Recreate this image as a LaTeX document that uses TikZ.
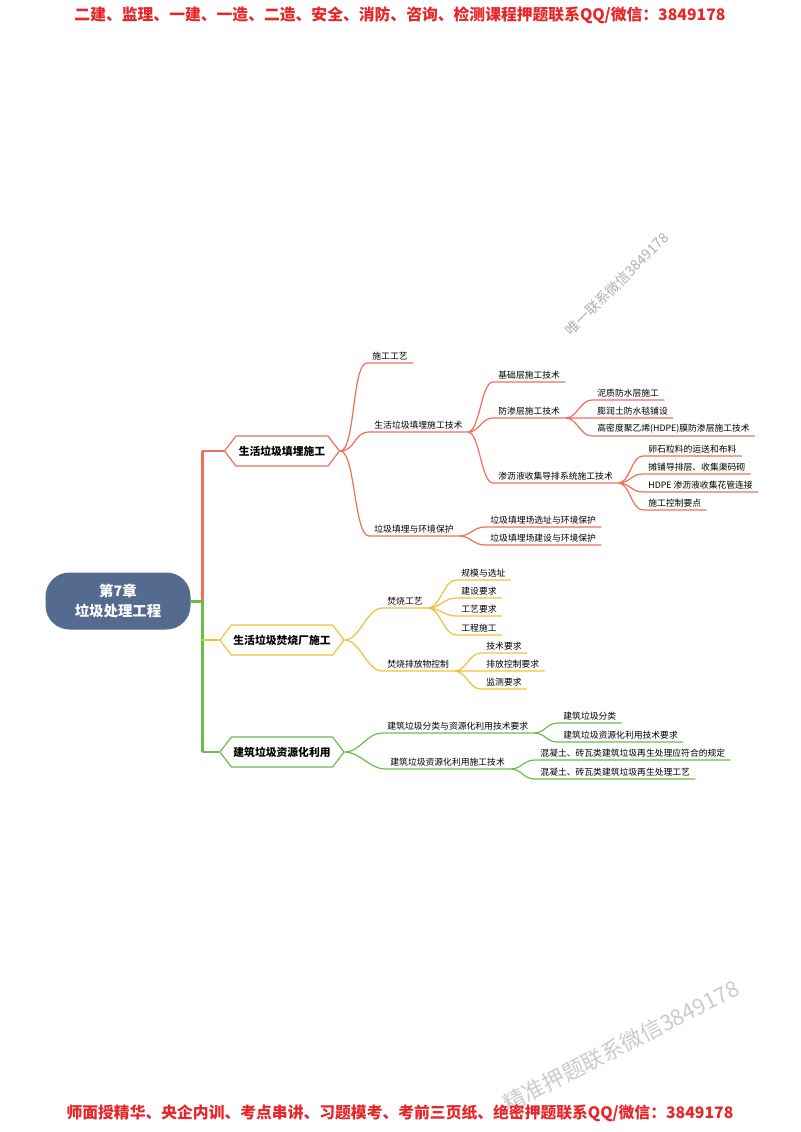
\documentclass[tikz,border=0pt]{standalone}
\usepackage{fontspec}
\setmainfont{Noto Sans CJK SC}
\usetikzlibrary{shapes.symbols}
\definecolor{hdred}{RGB}{230,38,40}
\definecolor{brred}{RGB}{238,112,92}
\definecolor{bryel}{RGB}{242,192,56}
\definecolor{brgrn}{RGB}{108,190,72}
\definecolor{rootc}{RGB}{84,106,142}
\definecolor{wmgray}{RGB}{175,175,175}
\tikzset{
  root/.style={draw=none, fill=rootc, text=white, rounded corners=12pt, align=center,
    minimum width=72.5pt, minimum height=28.5pt, font=\bfseries\fontsize{7.2}{10}\selectfont},
  topic/.style={shape=signal, signal to=east and west, signal pointer angle=105, draw=#1,
    fill=white, line width=0.6pt, minimum width=57.5pt, minimum height=15pt, inner xsep=1pt,
    font=\bfseries\fontsize{5.4}{6}\selectfont},
  sub/.style={anchor=south west, inner xsep=2.5pt, inner ysep=1pt,
    font=\fontsize{4.4}{5}\selectfont},
  br/.style={draw=#1, line width=0.6pt},
  trunk/.style={draw=#1, line width=1.5pt},
  banner/.style={text=hdred, font=\bfseries\fontsize{7.9}{9}\selectfont},
}

\begin{document}
\begin{tikzpicture}[x=0.5pt, y=-0.5pt]
    \useasboundingbox (0,0) rectangle (800,1132);
    % 水印
    \node[text=wmgray, rotate=45, font=\fontsize{7}{8}\selectfont] (wm1) at (617,284) {唯一联系微信3849178};
    \node[text=wmgray!65, rotate=27, font=\fontsize{11}{12}\selectfont] (wm2) at (621,1046) {精准押题联系微信3849178};
    % 页眉页脚
    \node[banner] (head) at (400,15)   {二建、监理、一建、一造、二造、安全、消防、咨询、检测课程押题联系QQ/微信：3849178};
    \node[banner] (foot) at (400,1113) {师面授精华、央企内训、考点串讲、习题模考、考前三页纸、绝密押题联系QQ/微信：3849178};
    % 中心
    \node[root] (root) at (118,601) {第7章\\垃圾处理工程};
    \coordinate (fork) at (202,601);
    \node[topic=brred] (h1) at (282,451) {生活垃圾填埋施工};
    \node[topic=bryel] (h2) at (282,640) {生活垃圾焚烧厂施工};
    \node[topic=brgrn] (h3) at (282,752) {建筑垃圾资源化利用};
    % 填埋
    \node[sub] (a1) at (367,363) {施工工艺};
    \node[sub] (a2) at (369,432) {生活垃圾填埋施工技术};
    \node[sub] (a3) at (369,536) {垃圾填埋与环境保护};
    \node[sub] (b1) at (493,382) {基础层施工技术};
    \node[sub] (b2) at (493,418) {防渗层施工技术};
    \node[sub] (b3) at (493,483) {渗沥液收集导排系统施工技术};
    \node[sub] (c1) at (592,400) {泥质防水层施工};
    \node[sub] (c2) at (592,418) {膨润土防水毯铺设};
    \node[sub] (c3) at (592,436) {高密度聚乙烯(HDPE)膜防渗层施工技术};
    \node[sub] (d1) at (643,456) {卵石粒料的运送和布料};
    \node[sub] (d2) at (643,474) {摊铺导排层、收集渠码砌};
    \node[sub] (d3) at (643,492) {HDPE 渗沥液收集花管连接};
    \node[sub] (d4) at (643,510) {施工控制要点};
    \node[sub] (e1) at (485,527) {垃圾填埋场选址与环境保护};
    \node[sub] (e2) at (485,545) {垃圾填埋场建设与环境保护};
    % 焚烧
    \node[sub] (f1) at (382,608) {焚烧工艺};
    \node[sub] (f2) at (382,671) {焚烧排放物控制};
    \node[sub] (g1) at (456,580) {规模与选址};
    \node[sub] (g2) at (456,598) {建设要求};
    \node[sub] (g3) at (456,616) {工艺要求};
    \node[sub] (g4) at (456,635) {工程施工};
    \node[sub] (g5) at (481,653) {技术要求};
    \node[sub] (g6) at (481,671) {排放控制要求};
    \node[sub] (g7) at (481,689) {监测要求};
    % 建筑垃圾
    \node[sub] (k1) at (382,733) {建筑垃圾分类与资源化利用技术要求};
    \node[sub] (k2) at (385,769) {建筑垃圾资源化利用施工技术};
    \node[sub] (m1) at (558,723) {建筑垃圾分类};
    \node[sub] (m2) at (558,742) {建筑垃圾资源化利用技术要求};
    \node[sub] (m3) at (535,760) {混凝土、砖瓦类建筑垃圾再生处理应符合的规定};
    \node[sub] (m4) at (535,779) {混凝土、砖瓦类建筑垃圾再生处理工艺};
    % 主干
    \draw[trunk=brgrn] (root.east) -- (fork) -- (fork |- h3.west);
    \draw[trunk=brred] (fork) -- (fork |- h1.west);
    \draw[br=brred] (fork |- h1.west) -- (h1.west);
    \draw[br=bryel] (fork |- h2.west) -- (h2.west);
    \draw[br=brgrn] (fork |- h3.west) -- (h3.west);
    % 分支
    \draw[br=brred]
      (h1.east) .. controls +(15,0) and +(-15,0) .. (a1.south west) -- (a1.south east)
      (h1.east) .. controls +(15,0) and +(-15,0) .. (a2.south west) -- (a2.south east)
      (h1.east) .. controls +(15,0) and +(-15,0) .. (a3.south west) -- (a3.south east)
      (a2.south east) .. controls +(12,0) and +(-12,0) .. (b1.south west) -- (b1.south east)
      (a2.south east) .. controls +(12,0) and +(-12,0) .. (b2.south west) -- (b2.south east)
      (a2.south east) .. controls +(12,0) and +(-12,0) .. (b3.south west) -- (b3.south east)
      (b2.south east) .. controls +(12,0) and +(-12,0) .. (c1.south west) -- (c1.south east)
      (b2.south east) .. controls +(12,0) and +(-12,0) .. (c2.south west) -- (c2.south east)
      (b2.south east) .. controls +(12,0) and +(-12,0) .. (c3.south west) -- (c3.south east)
      (b3.south east) .. controls +(12,0) and +(-12,0) .. (d1.south west) -- (d1.south east)
      (b3.south east) .. controls +(12,0) and +(-12,0) .. (d2.south west) -- (d2.south east)
      (b3.south east) .. controls +(12,0) and +(-12,0) .. (d3.south west) -- (d3.south east)
      (b3.south east) .. controls +(12,0) and +(-12,0) .. (d4.south west) -- (d4.south east)
      (a3.south east) .. controls +(12,0) and +(-12,0) .. (e1.south west) -- (e1.south east)
      (a3.south east) .. controls +(12,0) and +(-12,0) .. (e2.south west) -- (e2.south east);
    \draw[br=bryel]
      (h2.east) .. controls +(15,0) and +(-15,0) .. (f1.south west) -- (f1.south east)
      (h2.east) .. controls +(15,0) and +(-15,0) .. (f2.south west) -- (f2.south east)
      (f1.south east) .. controls +(12,0) and +(-12,0) .. (g1.south west) -- (g1.south east)
      (f1.south east) .. controls +(12,0) and +(-12,0) .. (g2.south west) -- (g2.south east)
      (f1.south east) .. controls +(12,0) and +(-12,0) .. (g3.south west) -- (g3.south east)
      (f1.south east) .. controls +(12,0) and +(-12,0) .. (g4.south west) -- (g4.south east)
      (f2.south east) .. controls +(12,0) and +(-12,0) .. (g5.south west) -- (g5.south east)
      (f2.south east) .. controls +(12,0) and +(-12,0) .. (g6.south west) -- (g6.south east)
      (f2.south east) .. controls +(12,0) and +(-12,0) .. (g7.south west) -- (g7.south east);
    \draw[br=brgrn]
      (h3.east) .. controls +(15,0) and +(-15,0) .. (k1.south west) -- (k1.south east)
      (h3.east) .. controls +(15,0) and +(-15,0) .. (k2.south west) -- (k2.south east)
      (k1.south east) .. controls +(12,0) and +(-12,0) .. (m1.south west) -- (m1.south east)
      (k1.south east) .. controls +(12,0) and +(-12,0) .. (m2.south west) -- (m2.south east)
      (k2.south east) .. controls +(12,0) and +(-12,0) .. (m3.south west) -- (m3.south east)
      (k2.south east) .. controls +(12,0) and +(-12,0) .. (m4.south west) -- (m4.south east);
\end{tikzpicture}
\end{document}
